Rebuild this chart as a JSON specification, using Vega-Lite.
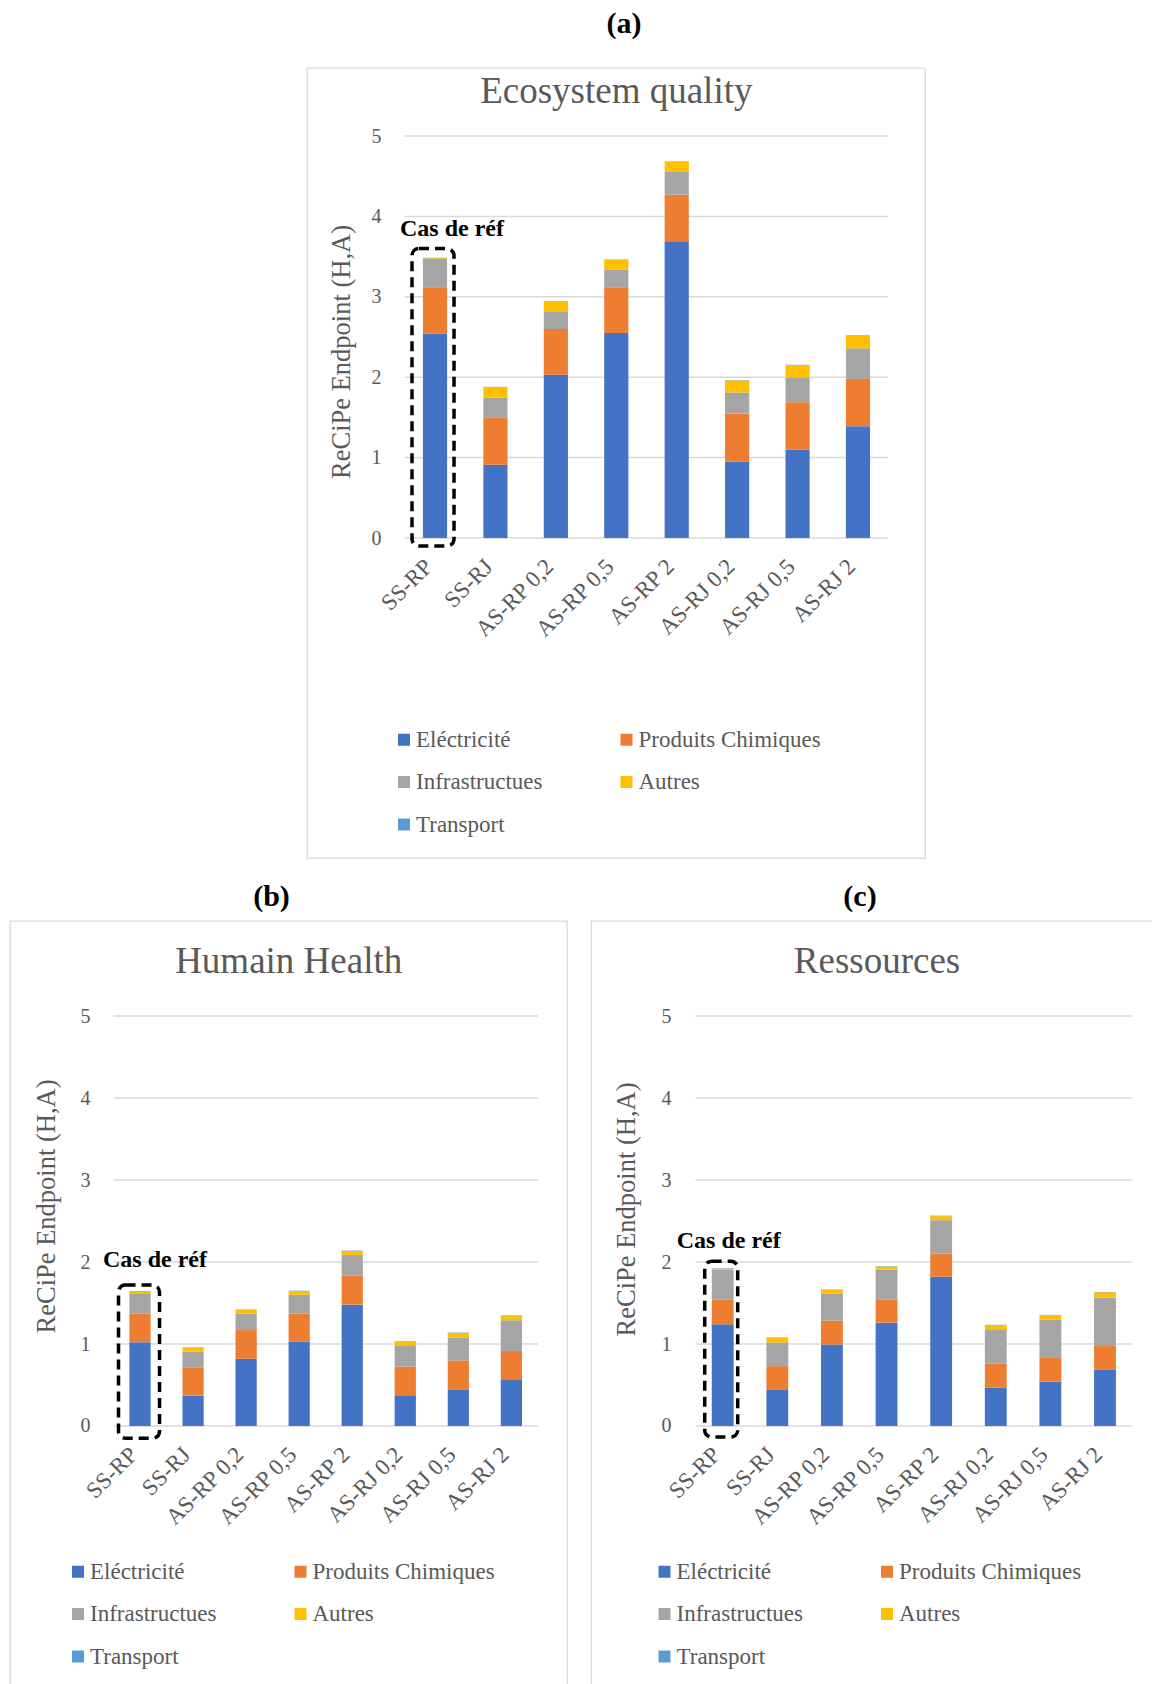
{
  "$schema": "https://vega.github.io/schema/vega-lite/v6.json",
  "padding": {"left": 9, "top": 8, "right": 0, "bottom": 0},
  "config": {
    "font": "Liberation Serif",
    "view": {"stroke": "#d9d9d9", "strokeWidth": 1.3},
    "axis": {"labelFont": "Liberation Serif", "titleFont": "Liberation Serif"},
    "legend": {"labelFont": "Liberation Serif"},
    "title": {"font": "Liberation Serif"}
  },
  "datasets": {
    "a": [
      {"c": "SS-RP", "s": "Eléctricité", "n": 1, "v": 2.54}, {"c": "SS-RP", "s": "Produits Chimiques", "n": 2, "v": 0.58}, {"c": "SS-RP", "s": "Infrastructues", "n": 3, "v": 0.35}, {"c": "SS-RP", "s": "Autres", "n": 4, "v": 0.01}, {"c": "SS-RP", "s": "Transport", "n": 5, "v": 0.005},
      {"c": "SS-RJ", "s": "Eléctricité", "n": 1, "v": 0.91}, {"c": "SS-RJ", "s": "Produits Chimiques", "n": 2, "v": 0.585}, {"c": "SS-RJ", "s": "Infrastructues", "n": 3, "v": 0.25}, {"c": "SS-RJ", "s": "Autres", "n": 4, "v": 0.13}, {"c": "SS-RJ", "s": "Transport", "n": 5, "v": 0.005},
      {"c": "AS-RP 0,2", "s": "Eléctricité", "n": 1, "v": 2.03}, {"c": "AS-RP 0,2", "s": "Produits Chimiques", "n": 2, "v": 0.57}, {"c": "AS-RP 0,2", "s": "Infrastructues", "n": 3, "v": 0.22}, {"c": "AS-RP 0,2", "s": "Autres", "n": 4, "v": 0.12}, {"c": "AS-RP 0,2", "s": "Transport", "n": 5, "v": 0.005},
      {"c": "AS-RP 0,5", "s": "Eléctricité", "n": 1, "v": 2.55}, {"c": "AS-RP 0,5", "s": "Produits Chimiques", "n": 2, "v": 0.57}, {"c": "AS-RP 0,5", "s": "Infrastructues", "n": 3, "v": 0.22}, {"c": "AS-RP 0,5", "s": "Autres", "n": 4, "v": 0.12}, {"c": "AS-RP 0,5", "s": "Transport", "n": 5, "v": 0.005},
      {"c": "AS-RP 2", "s": "Eléctricité", "n": 1, "v": 3.69}, {"c": "AS-RP 2", "s": "Produits Chimiques", "n": 2, "v": 0.58}, {"c": "AS-RP 2", "s": "Infrastructues", "n": 3, "v": 0.29}, {"c": "AS-RP 2", "s": "Autres", "n": 4, "v": 0.12}, {"c": "AS-RP 2", "s": "Transport", "n": 5, "v": 0.005},
      {"c": "AS-RJ 0,2", "s": "Eléctricité", "n": 1, "v": 0.95}, {"c": "AS-RJ 0,2", "s": "Produits Chimiques", "n": 2, "v": 0.6}, {"c": "AS-RJ 0,2", "s": "Infrastructues", "n": 3, "v": 0.26}, {"c": "AS-RJ 0,2", "s": "Autres", "n": 4, "v": 0.15}, {"c": "AS-RJ 0,2", "s": "Transport", "n": 5, "v": 0.005},
      {"c": "AS-RJ 0,5", "s": "Eléctricité", "n": 1, "v": 1.1}, {"c": "AS-RJ 0,5", "s": "Produits Chimiques", "n": 2, "v": 0.59}, {"c": "AS-RJ 0,5", "s": "Infrastructues", "n": 3, "v": 0.3}, {"c": "AS-RJ 0,5", "s": "Autres", "n": 4, "v": 0.16}, {"c": "AS-RJ 0,5", "s": "Transport", "n": 5, "v": 0.005},
      {"c": "AS-RJ 2", "s": "Eléctricité", "n": 1, "v": 1.39}, {"c": "AS-RJ 2", "s": "Produits Chimiques", "n": 2, "v": 0.59}, {"c": "AS-RJ 2", "s": "Infrastructues", "n": 3, "v": 0.38}, {"c": "AS-RJ 2", "s": "Autres", "n": 4, "v": 0.16}, {"c": "AS-RJ 2", "s": "Transport", "n": 5, "v": 0.005}
    ],
    "b": [
      {"c": "SS-RP", "s": "Eléctricité", "n": 1, "v": 1.02}, {"c": "SS-RP", "s": "Produits Chimiques", "n": 2, "v": 0.35}, {"c": "SS-RP", "s": "Infrastructues", "n": 3, "v": 0.25}, {"c": "SS-RP", "s": "Autres", "n": 4, "v": 0.02}, {"c": "SS-RP", "s": "Transport", "n": 5, "v": 0.005},
      {"c": "SS-RJ", "s": "Eléctricité", "n": 1, "v": 0.37}, {"c": "SS-RJ", "s": "Produits Chimiques", "n": 2, "v": 0.345}, {"c": "SS-RJ", "s": "Infrastructues", "n": 3, "v": 0.19}, {"c": "SS-RJ", "s": "Autres", "n": 4, "v": 0.05}, {"c": "SS-RJ", "s": "Transport", "n": 5, "v": 0.005},
      {"c": "AS-RP 0,2", "s": "Eléctricité", "n": 1, "v": 0.82}, {"c": "AS-RP 0,2", "s": "Produits Chimiques", "n": 2, "v": 0.35}, {"c": "AS-RP 0,2", "s": "Infrastructues", "n": 3, "v": 0.2}, {"c": "AS-RP 0,2", "s": "Autres", "n": 4, "v": 0.045}, {"c": "AS-RP 0,2", "s": "Transport", "n": 5, "v": 0.005},
      {"c": "AS-RP 0,5", "s": "Eléctricité", "n": 1, "v": 1.03}, {"c": "AS-RP 0,5", "s": "Produits Chimiques", "n": 2, "v": 0.34}, {"c": "AS-RP 0,5", "s": "Infrastructues", "n": 3, "v": 0.23}, {"c": "AS-RP 0,5", "s": "Autres", "n": 4, "v": 0.045}, {"c": "AS-RP 0,5", "s": "Transport", "n": 5, "v": 0.005},
      {"c": "AS-RP 2", "s": "Eléctricité", "n": 1, "v": 1.48}, {"c": "AS-RP 2", "s": "Produits Chimiques", "n": 2, "v": 0.355}, {"c": "AS-RP 2", "s": "Infrastructues", "n": 3, "v": 0.25}, {"c": "AS-RP 2", "s": "Autres", "n": 4, "v": 0.05}, {"c": "AS-RP 2", "s": "Transport", "n": 5, "v": 0.005},
      {"c": "AS-RJ 0,2", "s": "Eléctricité", "n": 1, "v": 0.375}, {"c": "AS-RJ 0,2", "s": "Produits Chimiques", "n": 2, "v": 0.35}, {"c": "AS-RJ 0,2", "s": "Infrastructues", "n": 3, "v": 0.26}, {"c": "AS-RJ 0,2", "s": "Autres", "n": 4, "v": 0.045}, {"c": "AS-RJ 0,2", "s": "Transport", "n": 5, "v": 0.005},
      {"c": "AS-RJ 0,5", "s": "Eléctricité", "n": 1, "v": 0.44}, {"c": "AS-RJ 0,5", "s": "Produits Chimiques", "n": 2, "v": 0.36}, {"c": "AS-RJ 0,5", "s": "Infrastructues", "n": 3, "v": 0.28}, {"c": "AS-RJ 0,5", "s": "Autres", "n": 4, "v": 0.055}, {"c": "AS-RJ 0,5", "s": "Transport", "n": 5, "v": 0.005},
      {"c": "AS-RJ 2", "s": "Eléctricité", "n": 1, "v": 0.56}, {"c": "AS-RJ 2", "s": "Produits Chimiques", "n": 2, "v": 0.355}, {"c": "AS-RJ 2", "s": "Infrastructues", "n": 3, "v": 0.375}, {"c": "AS-RJ 2", "s": "Autres", "n": 4, "v": 0.055}, {"c": "AS-RJ 2", "s": "Transport", "n": 5, "v": 0.005}
    ],
    "c": [
      {"c": "SS-RP", "s": "Eléctricité", "n": 1, "v": 1.24}, {"c": "SS-RP", "s": "Produits Chimiques", "n": 2, "v": 0.3}, {"c": "SS-RP", "s": "Infrastructues", "n": 3, "v": 0.365}, {"c": "SS-RP", "s": "Autres", "n": 4, "v": 0.015}, {"c": "SS-RP", "s": "Transport", "n": 5, "v": 0.005},
      {"c": "SS-RJ", "s": "Eléctricité", "n": 1, "v": 0.44}, {"c": "SS-RJ", "s": "Produits Chimiques", "n": 2, "v": 0.29}, {"c": "SS-RJ", "s": "Infrastructues", "n": 3, "v": 0.29}, {"c": "SS-RJ", "s": "Autres", "n": 4, "v": 0.055}, {"c": "SS-RJ", "s": "Transport", "n": 5, "v": 0.005},
      {"c": "AS-RP 0,2", "s": "Eléctricité", "n": 1, "v": 0.995}, {"c": "AS-RP 0,2", "s": "Produits Chimiques", "n": 2, "v": 0.29}, {"c": "AS-RP 0,2", "s": "Infrastructues", "n": 3, "v": 0.33}, {"c": "AS-RP 0,2", "s": "Autres", "n": 4, "v": 0.045}, {"c": "AS-RP 0,2", "s": "Transport", "n": 5, "v": 0.005},
      {"c": "AS-RP 0,5", "s": "Eléctricité", "n": 1, "v": 1.26}, {"c": "AS-RP 0,5", "s": "Produits Chimiques", "n": 2, "v": 0.285}, {"c": "AS-RP 0,5", "s": "Infrastructues", "n": 3, "v": 0.36}, {"c": "AS-RP 0,5", "s": "Autres", "n": 4, "v": 0.04}, {"c": "AS-RP 0,5", "s": "Transport", "n": 5, "v": 0.005},
      {"c": "AS-RP 2", "s": "Eléctricité", "n": 1, "v": 1.82}, {"c": "AS-RP 2", "s": "Produits Chimiques", "n": 2, "v": 0.28}, {"c": "AS-RP 2", "s": "Infrastructues", "n": 3, "v": 0.41}, {"c": "AS-RP 2", "s": "Autres", "n": 4, "v": 0.05}, {"c": "AS-RP 2", "s": "Transport", "n": 5, "v": 0.005},
      {"c": "AS-RJ 0,2", "s": "Eléctricité", "n": 1, "v": 0.47}, {"c": "AS-RJ 0,2", "s": "Produits Chimiques", "n": 2, "v": 0.29}, {"c": "AS-RJ 0,2", "s": "Infrastructues", "n": 3, "v": 0.42}, {"c": "AS-RJ 0,2", "s": "Autres", "n": 4, "v": 0.05}, {"c": "AS-RJ 0,2", "s": "Transport", "n": 5, "v": 0.005},
      {"c": "AS-RJ 0,5", "s": "Eléctricité", "n": 1, "v": 0.54}, {"c": "AS-RJ 0,5", "s": "Produits Chimiques", "n": 2, "v": 0.29}, {"c": "AS-RJ 0,5", "s": "Infrastructues", "n": 3, "v": 0.465}, {"c": "AS-RJ 0,5", "s": "Autres", "n": 4, "v": 0.055}, {"c": "AS-RJ 0,5", "s": "Transport", "n": 5, "v": 0.005},
      {"c": "AS-RJ 2", "s": "Eléctricité", "n": 1, "v": 0.685}, {"c": "AS-RJ 2", "s": "Produits Chimiques", "n": 2, "v": 0.29}, {"c": "AS-RJ 2", "s": "Infrastructues", "n": 3, "v": 0.59}, {"c": "AS-RJ 2", "s": "Autres", "n": 4, "v": 0.065}, {"c": "AS-RJ 2", "s": "Transport", "n": 5, "v": 0.005}
    ]
  },
  "spacing": 22,
  "resolve": {"scale": {"x": "independent", "y": "independent", "color": "independent"}, "legend": {"color": "independent"}},
  "vconcat": [
    {
      "spacing": 0,
      "resolve": {"scale": {"x": "independent", "y": "independent", "color": "independent"}, "legend": {"color": "independent"}},
      "hconcat": [
        {
          "width": 296, "height": 10,
          "view": {"stroke": null},
          "data": {"values": [{}]},
          "mark": {"type": "point", "opacity": 0},
          "encoding": {}
        },
        {
          "width": 618, "height": 790,
          "title": {"text": "(a)", "fontSize": 30, "fontWeight": "bold", "color": "#000000", "offset": 29, "dx": 8, "anchor": "middle"},
          "data": {"name": "a"},
          "layer": [
            {
              "data": {"values": [{"g": 0}, {"g": 1}, {"g": 2}, {"g": 3}, {"g": 4}, {"g": 5}]},
              "mark": {"type": "rule", "color": "#d9d9d9", "strokeWidth": 1.5, "xOffset": -30.2, "x2Offset": 30.2},
              "encoding": {
                "x": {"datum": "SS-RP", "type": "nominal"},
                "x2": {"datum": "AS-RJ 2"},
                "y": {"field": "g", "type": "quantitative"}
              }
            },
            {
              "mark": {"type": "bar"},
              "encoding": {
                "x": {"field": "c", "type": "nominal", "sort": null,
                  "scale": {"domain": ["SS-RP", "SS-RJ", "AS-RP 0,2", "AS-RP 0,5", "AS-RP 2", "AS-RJ 0,2", "AS-RJ 0,5", "AS-RJ 2"], "range": [97.8, 581.2], "paddingInner": 0.6, "paddingOuter": 0.3, "round": false},
                  "axis": {"orient": "bottom", "offset": -320, "title": null, "domain": false, "ticks": false, "tickSize": 0, "grid": false, "labelAngle": -45, "labelAlign": "right", "labelBaseline": "top", "labelPadding": 17, "labelOffset": -14, "labelFontSize": 23, "labelColor": "#595959", "labelOverlap": false, "labelLimit": 300}},
                "y": {"field": "v", "type": "quantitative", "stack": "zero",
                  "scale": {"domain": [-3.98, 5.846], "nice": false, "zero": false},
                  "axis": {"orient": "left", "offset": -80, "values": [0, 1, 2, 3, 4, 5], "format": "d", "grid": false, "domain": false, "ticks": false, "tickSize": 0, "labelPadding": 6, "labelFontSize": 20, "labelColor": "#595959", "title": "ReCiPe Endpoint (H,A)", "titleFontSize": 26.5, "titleFontWeight": "normal", "titleColor": "#595959", "titleX": -45.5, "titleY": 283.5, "titleAngle": -90, "titleAlign": "center", "titleBaseline": "middle"}},
                "color": {"field": "s", "type": "nominal",
                  "scale": {"domain": ["Eléctricité", "Produits Chimiques", "Infrastructues", "Autres", "Transport"], "range": ["#4472C4", "#ED7D31", "#A5A5A5", "#FFC000", "#5B9BD5"]},
                  "legend": {"orient": "none", "direction": "horizontal", "legendX": 85.5, "legendY": 660, "columns": 2, "title": null, "symbolType": "square", "symbolSize": 144, "symbolStrokeWidth": 0, "labelFontSize": 23, "labelColor": "#595959", "labelLimit": 400, "labelOffset": 0.5, "columnPadding": 72.5, "rowPadding": 18.5, "padding": 0}},
                "order": {"field": "n", "type": "quantitative"}
              }
            },
            {
              "data": {"values": [{"t": "Cas de réf"}]},
              "mark": {"type": "bar", "width": 42, "xOffset": -2, "fill": "transparent", "stroke": "#000000", "strokeWidth": 3.5, "strokeDash": [10, 6], "cornerRadius": 7},
              "encoding": {
                "x": {"datum": "SS-RP", "type": "nominal"},
                "y": {"datum": -0.1, "type": "quantitative"},
                "y2": {"datum": 3.6}
              }
            },
            {
              "data": {"values": [{"t": "Cas de réf"}]},
              "mark": {"type": "text", "align": "left", "baseline": "middle", "dx": -35, "fontSize": 24, "fontWeight": "bold", "color": "#000000"},
              "encoding": {
                "x": {"datum": "SS-RP", "type": "nominal"},
                "y": {"datum": 3.84, "type": "quantitative"},
                "text": {"field": "t"}
              }
            },
            {
              "data": {"values": [{"t": "Ecosystem quality"}]},
              "mark": {"type": "text", "align": "center", "baseline": "middle", "fontSize": 37, "color": "#595959"},
              "encoding": {
                "x": {"datum": "AS-RP 0,5", "type": "nominal"},
                "y": {"datum": 5.544, "type": "quantitative"},
                "text": {"field": "t"}
              }
            }
          ]
        }
      ]
    },
    {
      "spacing": 22,
      "resolve": {"scale": {"x": "independent", "y": "independent", "color": "independent"}, "legend": {"color": "independent"}},
      "hconcat": [
        {
          "width": 557, "height": 765,
          "title": {"text": "(b)", "fontSize": 30, "fontWeight": "bold", "color": "#000000", "offset": 9, "dx": -17, "anchor": "middle"},
          "data": {"name": "b"},
          "layer": [
            {
              "data": {"values": [{"g": 0}, {"g": 1}, {"g": 2}, {"g": 3}, {"g": 4}, {"g": 5}]},
              "mark": {"type": "rule", "color": "#d9d9d9", "strokeWidth": 1.5, "xOffset": -26.53, "x2Offset": 26.53},
              "encoding": {
                "x": {"datum": "SS-RP", "type": "nominal"},
                "x2": {"datum": "AS-RJ 2"},
                "y": {"field": "g", "type": "quantitative"}
              }
            },
            {
              "mark": {"type": "bar"},
              "encoding": {
                "x": {"field": "c", "type": "nominal", "sort": null,
                  "scale": {"domain": ["SS-RP", "SS-RJ", "AS-RP 0,2", "AS-RP 0,5", "AS-RP 2", "AS-RJ 0,2", "AS-RJ 0,5", "AS-RJ 2"], "range": [103.5, 527.9], "paddingInner": 0.6, "paddingOuter": 0.3, "round": false},
                  "axis": {"orient": "bottom", "offset": -260, "title": null, "domain": false, "ticks": false, "tickSize": 0, "grid": false, "labelAngle": -45, "labelAlign": "right", "labelBaseline": "top", "labelPadding": 17, "labelOffset": -14, "labelFontSize": 23, "labelColor": "#595959", "labelOverlap": false, "labelLimit": 300}},
                "y": {"field": "v", "type": "quantitative", "stack": "zero",
                  "scale": {"domain": [-3.171, 6.159], "nice": false, "zero": false},
                  "axis": {"orient": "left", "offset": -86, "values": [0, 1, 2, 3, 4, 5], "format": "d", "grid": false, "domain": false, "ticks": false, "tickSize": 0, "labelPadding": 6, "labelFontSize": 20, "labelColor": "#595959", "title": "ReCiPe Endpoint (H,A)", "titleFontSize": 26.5, "titleFontWeight": "normal", "titleColor": "#595959", "titleX": -50, "titleY": 285, "titleAngle": -90, "titleAlign": "center", "titleBaseline": "middle"}},
                "color": {"field": "s", "type": "nominal",
                  "scale": {"domain": ["Eléctricité", "Produits Chimiques", "Infrastructues", "Autres", "Transport"], "range": ["#4472C4", "#ED7D31", "#A5A5A5", "#FFC000", "#5B9BD5"]},
                  "legend": {"orient": "none", "direction": "horizontal", "legendX": 56.5, "legendY": 639, "columns": 2, "title": null, "symbolType": "square", "symbolSize": 144, "symbolStrokeWidth": 0, "labelFontSize": 23, "labelColor": "#595959", "labelLimit": 400, "labelOffset": 0.5, "columnPadding": 72.5, "rowPadding": 18.5, "padding": 0}},
                "order": {"field": "n", "type": "quantitative"}
              }
            },
            {
              "data": {"values": [{"t": "Cas de réf"}]},
              "mark": {"type": "bar", "width": 41, "xOffset": -1, "fill": "transparent", "stroke": "#000000", "strokeWidth": 3.5, "strokeDash": [10, 6], "cornerRadius": 7},
              "encoding": {
                "x": {"datum": "SS-RP", "type": "nominal"},
                "y": {"datum": -0.15, "type": "quantitative"},
                "y2": {"datum": 1.72}
              }
            },
            {
              "data": {"values": [{"t": "Cas de réf"}]},
              "mark": {"type": "text", "align": "left", "baseline": "middle", "dx": -37, "fontSize": 24, "fontWeight": "bold", "color": "#000000"},
              "encoding": {
                "x": {"datum": "SS-RP", "type": "nominal"},
                "y": {"datum": 2.02, "type": "quantitative"},
                "text": {"field": "t"}
              }
            },
            {
              "data": {"values": [{"t": "Humain Health"}]},
              "mark": {"type": "text", "align": "center", "baseline": "middle", "dx": -10.5, "fontSize": 37, "color": "#595959"},
              "encoding": {
                "x": {"datum": "AS-RP 0,5", "type": "nominal"},
                "y": {"datum": 5.661, "type": "quantitative"},
                "text": {"field": "t"}
              }
            }
          ]
        },
        {
          "width": 563, "height": 765,
          "title": {"text": "(c)", "fontSize": 30, "fontWeight": "bold", "color": "#000000", "offset": 9, "dx": -12.5, "anchor": "middle"},
          "data": {"name": "c"},
          "layer": [
            {
              "data": {"values": [{"g": 0}, {"g": 1}, {"g": 2}, {"g": 3}, {"g": 4}, {"g": 5}]},
              "mark": {"type": "rule", "color": "#d9d9d9", "strokeWidth": 1.5, "xOffset": -27.31, "x2Offset": 27.31},
              "encoding": {
                "x": {"datum": "SS-RP", "type": "nominal"},
                "x2": {"datum": "AS-RJ 2"},
                "y": {"field": "g", "type": "quantitative"}
              }
            },
            {
              "mark": {"type": "bar"},
              "encoding": {
                "x": {"field": "c", "type": "nominal", "sort": null,
                  "scale": {"domain": ["SS-RP", "SS-RJ", "AS-RP 0,2", "AS-RP 0,5", "AS-RP 2", "AS-RJ 0,2", "AS-RJ 0,5", "AS-RJ 2"], "range": [104.4, 541.3], "paddingInner": 0.6, "paddingOuter": 0.3, "round": false},
                  "axis": {"orient": "bottom", "offset": -260, "title": null, "domain": false, "ticks": false, "tickSize": 0, "grid": false, "labelAngle": -45, "labelAlign": "right", "labelBaseline": "top", "labelPadding": 17, "labelOffset": -14, "labelFontSize": 23, "labelColor": "#595959", "labelOverlap": false, "labelLimit": 300}},
                "y": {"field": "v", "type": "quantitative", "stack": "zero",
                  "scale": {"domain": [-3.171, 6.159], "nice": false, "zero": false},
                  "axis": {"orient": "left", "offset": -86, "values": [0, 1, 2, 3, 4, 5], "format": "d", "grid": false, "domain": false, "ticks": false, "tickSize": 0, "labelPadding": 6, "labelFontSize": 20, "labelColor": "#595959", "title": "ReCiPe Endpoint (H,A)", "titleFontSize": 26.5, "titleFontWeight": "normal", "titleColor": "#595959", "titleX": -51, "titleY": 288, "titleAngle": -90, "titleAlign": "center", "titleBaseline": "middle"}},
                "color": {"field": "s", "type": "nominal",
                  "scale": {"domain": ["Eléctricité", "Produits Chimiques", "Infrastructues", "Autres", "Transport"], "range": ["#4472C4", "#ED7D31", "#A5A5A5", "#FFC000", "#5B9BD5"]},
                  "legend": {"orient": "none", "direction": "horizontal", "legendX": 62, "legendY": 639, "columns": 2, "title": null, "symbolType": "square", "symbolSize": 144, "symbolStrokeWidth": 0, "labelFontSize": 23, "labelColor": "#595959", "labelLimit": 400, "labelOffset": 0.5, "columnPadding": 72.5, "rowPadding": 18.5, "padding": 0}},
                "order": {"field": "n", "type": "quantitative"}
              }
            },
            {
              "data": {"values": [{"t": "Cas de réf"}]},
              "mark": {"type": "bar", "width": 33, "xOffset": -1.5, "fill": "transparent", "stroke": "#000000", "strokeWidth": 3.5, "strokeDash": [10, 6], "cornerRadius": 7},
              "encoding": {
                "x": {"datum": "SS-RP", "type": "nominal"},
                "y": {"datum": -0.135, "type": "quantitative"},
                "y2": {"datum": 2.01}
              }
            },
            {
              "data": {"values": [{"t": "Cas de réf"}]},
              "mark": {"type": "text", "align": "left", "baseline": "middle", "dx": -46, "fontSize": 24, "fontWeight": "bold", "color": "#000000"},
              "encoding": {
                "x": {"datum": "SS-RP", "type": "nominal"},
                "y": {"datum": 2.26, "type": "quantitative"},
                "text": {"field": "t"}
              }
            },
            {
              "data": {"values": [{"t": "Ressources"}]},
              "mark": {"type": "text", "align": "center", "baseline": "middle", "dx": -9.5, "fontSize": 37, "color": "#595959"},
              "encoding": {
                "x": {"datum": "AS-RP 0,5", "type": "nominal"},
                "y": {"datum": 5.661, "type": "quantitative"},
                "text": {"field": "t"}
              }
            }
          ]
        }
      ]
    }
  ]
}
